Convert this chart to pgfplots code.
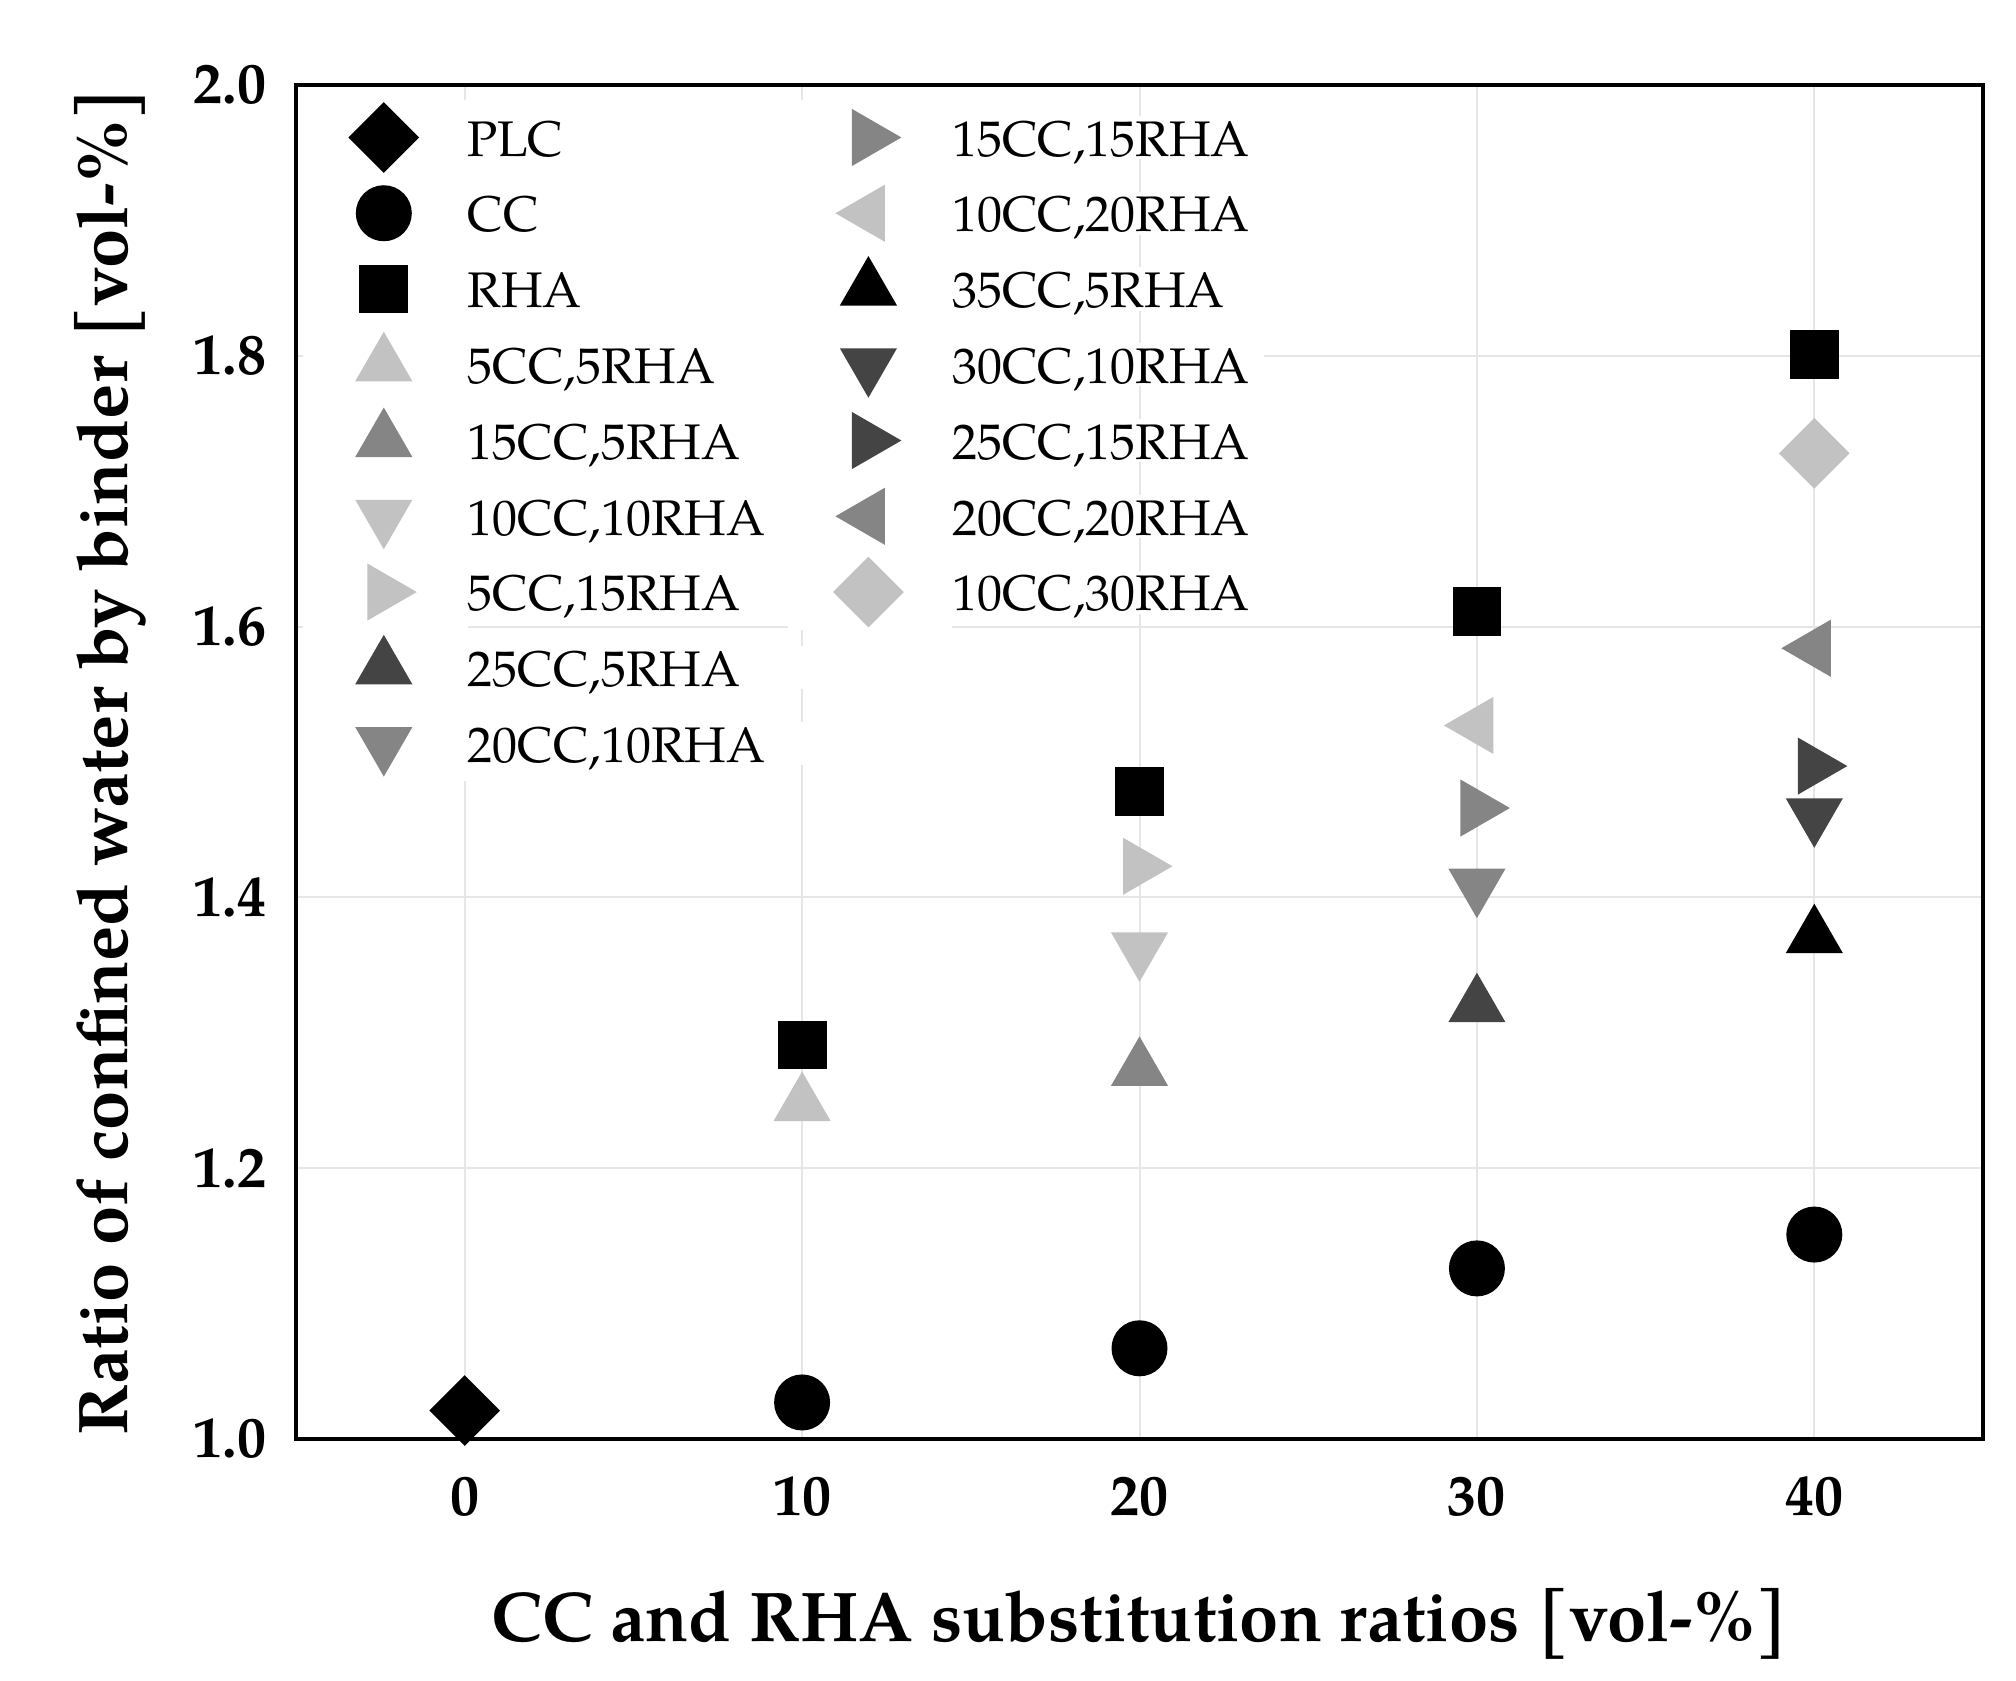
\documentclass[border=0pt]{standalone}
\usepackage{fontspec}
\setmainfont{TeX Gyre Pagella}
\usepackage{pgfplots}
\pgfplotsset{compat=1.18}
\definecolor{lg}{HTML}{C2C2C2}
\definecolor{mg}{HTML}{858585}
\definecolor{dg}{HTML}{444444}
\definecolor{gridc}{HTML}{E6E6E6}
\newcommand{\la}[1]{\makebox[100pt][l]{\rule[-9.27pt]{0pt}{18.54pt}\raisebox{-0.8pt}{#1}}}
\newcommand{\lb}[1]{\makebox[78pt][l]{\rule[-9.27pt]{0pt}{18.54pt}\raisebox{-0.8pt}{#1}}}
\begin{document}
\begin{tikzpicture}
\begin{axis}[
  scale only axis, width=421.75pt, height=338.5pt,
  xmin=-5, xmax=45, ymin=1, ymax=2,
  xtick={0,10,20,30,40}, ytick={1,1.2,1.4,1.6,1.8,2},
  major tick length=0pt,
  grid=major, major grid style={gridc, line width=0.5pt},
  axis line style={line width=1pt},
  /pgf/number format/assume math mode=true,
  yticklabel style={/pgf/number format/fixed, /pgf/number format/fixed zerofill, /pgf/number format/precision=1, font=\fontsize{14.5}{14.5}\selectfont\bfseries, anchor=east, inner sep=0pt, xshift=-7.25pt},
  xticklabel style={font=\fontsize{14.5}{14.5}\selectfont\bfseries, anchor=base, inner sep=0pt, yshift=-19pt},
  xlabel={CC and RHA substitution ratios [vol-\%]},
  ylabel={Ratio of confined water by binder [vol-\%]},
  xlabel style={font=\fontsize{17.6}{17.6}\selectfont\bfseries, at={([yshift=-50.7pt]rel axis cs:0.5,0)}, anchor=base, inner sep=0pt},
  ylabel style={font=\fontsize{17.6}{17.6}\selectfont\bfseries, at={([xshift=-46.5pt]rel axis cs:0,0.5)}, anchor=center, inner sep=0pt},
  legend columns=2,
  legend cell align=left,
  legend style={at={([xshift=21.75pt,yshift=-3.65pt]rel axis cs:0,1)}, anchor=north west, draw=none, fill=none, inner sep=0pt, outer sep=0pt, row sep=0pt, column sep=0pt, font=\fontsize{12.5}{15}\selectfont, nodes={inner sep=0pt, outer sep=0pt, fill=white}},
  legend image code/.code={
    \fill[white,overlay] (-20pt,-9.27pt) rectangle (0pt,9.27pt);
    \fill[white] (0pt,-9.27pt) rectangle (20.75pt,9.27pt);
    \draw[#1,overlay] plot coordinates {(0pt,0pt)};
  },
]
\addplot[only marks, black, mark=square*, mark size=6.05pt, mark options={rotate=45}] coordinates {(0,1.021)};
\addlegendentry{\la{PLC}}
\addplot[only marks, mg, mark=triangle*, mark size=7.85pt, mark options={rotate=-90}] coordinates {(30,1.466)};
\addlegendentry{\lb{15CC,15RHA}}
\addplot[only marks, black, mark=*, mark size=6.8pt] coordinates {(10,1.027) (20,1.067) (30,1.126) (40,1.151)};
\addlegendentry{\la{CC}}
\addplot[only marks, lg, mark=triangle*, mark size=7.85pt, mark options={rotate=90}] coordinates {(30,1.527)};
\addlegendentry{\lb{10CC,20RHA}}
\addplot[only marks, black, mark=square*, mark size=5.9pt] coordinates {(10,1.291) (20,1.478) (30,1.611) (40,1.801)};
\addlegendentry{\la{RHA}}
\addplot[only marks, black, mark=triangle*, mark size=7.85pt] coordinates {(40,1.371)};
\addlegendentry{\lb{35CC,5RHA}}
\addplot[only marks, lg, mark=triangle*, mark size=7.85pt] coordinates {(10,1.247)};
\addlegendentry{\la{5CC,5RHA}}
\addplot[only marks, dg, mark=triangle*, mark size=7.85pt, mark options={rotate=180}] coordinates {(40,1.461)};
\addlegendentry{\lb{30CC,10RHA}}
\addplot[only marks, mg, mark=triangle*, mark size=7.85pt] coordinates {(20,1.273)};
\addlegendentry{\la{15CC,5RHA}}
\addplot[only marks, dg, mark=triangle*, mark size=7.85pt, mark options={rotate=-90}] coordinates {(40,1.497)};
\addlegendentry{\lb{25CC,15RHA}}
\addplot[only marks, lg, mark=triangle*, mark size=7.85pt, mark options={rotate=180}] coordinates {(20,1.362)};
\addlegendentry{\la{10CC,10RHA}}
\addplot[only marks, mg, mark=triangle*, mark size=7.85pt, mark options={rotate=90}] coordinates {(40,1.584)};
\addlegendentry{\lb{20CC,20RHA}}
\addplot[only marks, lg, mark=triangle*, mark size=7.85pt, mark options={rotate=-90}] coordinates {(20,1.423)};
\addlegendentry{\la{5CC,15RHA}}
\addplot[only marks, lg, mark=square*, mark size=6.05pt, mark options={rotate=45}] coordinates {(40,1.728)};
\addlegendentry{\lb{10CC,30RHA}}
\addplot[only marks, dg, mark=triangle*, mark size=7.85pt] coordinates {(30,1.320)};
\addlegendentry{\la{25CC,5RHA}}
\addlegendimage{empty legend}
\addlegendentry{}
\addplot[only marks, mg, mark=triangle*, mark size=7.85pt, mark options={rotate=180}] coordinates {(30,1.409)};
\addlegendentry{\la{20CC,10RHA}}
\coordinate (bl) at (rel axis cs:0,0);
\coordinate (tr) at (rel axis cs:1,1);
\end{axis}
\pgfresetboundingbox
\path ([shift={(-74pt,-60.25pt)}]bl) rectangle ([shift={(8.25pt,21.25pt)}]tr);
\end{tikzpicture}
\end{document}
